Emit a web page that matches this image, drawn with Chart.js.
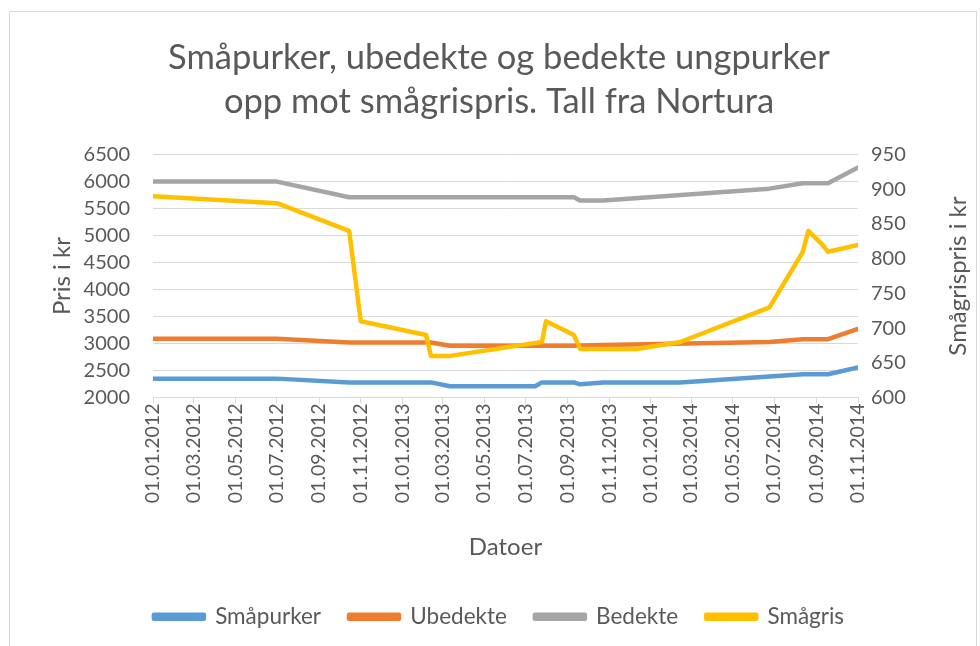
<!DOCTYPE html>
<html>
<head>
<meta charset="utf-8">
<script src="https://cdn.jsdelivr.net/npm/chart.js@4/dist/chart.umd.min.js"></script>
<style>
  body { margin: 0; background: #fff; }
  canvas { display: block; }
</style>
</head>
<body>
<canvas id="chart" width="980" height="646"></canvas>
<script>
// dates where at least one series changes slope
const dates = ['2012-01-01', '2012-07-01', '2012-10-15', '2012-11-01', '2013-02-05', '2013-02-12',
               '2013-03-12', '2013-07-15', '2013-07-25', '2013-07-31', '2013-09-10', '2013-09-19',
               '2013-10-23', '2013-12-11', '2014-02-13', '2014-06-24', '2014-08-12', '2014-08-20',
               '2014-09-10', '2014-09-18', '2014-11-01'];

const smapurker = [2350, 2350, 2280, null, null, 2280, 2210, 2210, 2280, null, 2280, 2245,
                   2280, null, 2280, 2390, 2430, null, null, 2430, 2555];
const ubedekte  = [3090, 3090, 3020, null, null, 3020, 2960, null, null, null, 2960, null,
                   2975, null, null, 3030, 3080, null, null, 3080, 3270];
const bedekte   = [6000, 6000, 5710, null, null, null, null, null, null, null, 5710, 5650,
                   5650, null, null, 5870, 5970, null, null, 5970, 6260];
const smagris   = [890, 880, 840, 710, 690, 660, 660, null, 680, 710, 690, 670,
                   null, 670, 680, 730, 810, 840, 820, 810, 820];

const tickLabels = ['01.01.2012', '01.03.2012', '01.05.2012', '01.07.2012', '01.09.2012', '01.11.2012',
                    '01.01.2013', '01.03.2013', '01.05.2013', '01.07.2013', '01.09.2013', '01.11.2013',
                    '01.01.2014', '01.03.2014', '01.05.2014', '01.07.2014', '01.09.2014', '01.11.2014'];

const FONT = 'Lato';
const TEXT = '#595959';
const GRID = '#D9D9D9';

const start = Date.UTC(2012, 0, 1);
function dayOf(iso) {
    const p = iso.split('-').map(Number);
    return (Date.UTC(p[0], p[1] - 1, p[2]) - start) / 86400000;
}
function dayOfLabel(lbl) {
    const p = lbl.split('.');
    return dayOf(p[2] + '-' + p[1] + '-' + p[0]);
}
const tickDays = tickLabels.map(dayOfLabel);

function points(values) {
    return dates.map((d, i) => ({ x: dayOf(d), y: values[i] }));
}

function series(label, values, color, axis, order) {
    return {
        label: label,
        data: points(values),
        borderColor: color,
        backgroundColor: color,
        borderWidth: 4.5,
        pointRadius: 0,
        tension: 0,
        borderJoinStyle: 'round',
        borderCapStyle: 'round',
        spanGaps: true,
        yAxisID: axis,
        order: order
    };
}

// frame round the chart + right axis title that reads bottom to top
const extras = {
    id: 'extras',
    beforeDraw(chart) {
        const ctx = chart.ctx;
        ctx.save();
        ctx.strokeStyle = GRID;
        ctx.lineWidth = 1;
        ctx.strokeRect(9.5, 11.5, 967, 700);
        ctx.restore();
    },
    afterDraw(chart) {
        const ctx = chart.ctx;
        const s = chart.scales.y1;
        ctx.save();
        ctx.translate(958, (s.top + s.bottom) / 2);
        ctx.rotate(-Math.PI / 2);
        ctx.fillStyle = TEXT;
        ctx.font = '24px ' + FONT;
        ctx.textAlign = 'center';
        ctx.textBaseline = 'middle';
        ctx.fillText('Smågrispris i kr', 0, 0);
        ctx.restore();
    }
};

new Chart(document.getElementById('chart'), {
    type: 'line',
    data: {
        datasets: [
            series('Småpurker', smapurker, '#5B9BD5', 'y', 3),
            series('Ubedekte', ubedekte, '#ED7D31', 'y', 2),
            series('Bedekte', bedekte, '#A5A5A5', 'y', 1),
            series('Smågris', smagris, '#FFC000', 'y1', 0)
        ]
    },
    options: {
        responsive: false,
        animation: false,
        layout: { padding: { left: 18, right: 0, top: 0, bottom: 8 } },
        plugins: {
            title: {
                display: true,
                text: ['Småpurker, ubedekte og bedekte ungpurker', 'opp mot smågrispris. Tall fra Nortura'],
                color: TEXT,
                font: { family: FONT, size: 34.5, weight: 'normal', lineHeight: 1.27 },
                padding: { top: 36, bottom: 31 }
            },
            legend: {
                position: 'bottom',
                labels: {
                    color: TEXT,
                    font: { family: FONT, size: 22.5 },
                    boxWidth: 50,
                    boxHeight: 4,
                    padding: 28,
                    sort: (a, b) => a.datasetIndex - b.datasetIndex
                }
            },
            tooltip: { enabled: false }
        },
        scales: {
            x: {
                type: 'linear',
                min: 0,
                max: tickDays[tickDays.length - 1],
                afterBuildTicks(scale) {
                    scale.ticks = tickDays.map(v => ({ value: v }));
                },
                ticks: {
                    autoSkip: false,
                    minRotation: 90,
                    maxRotation: 90,
                    color: TEXT,
                    font: { family: FONT, size: 19.5 },
                    padding: 0,
                    callback: (v) => tickLabels[tickDays.indexOf(v)]
                },
                grid: { drawOnChartArea: false, color: GRID, tickLength: 6 },
                border: { color: GRID },
                title: {
                    display: true,
                    text: 'Datoer',
                    color: TEXT,
                    font: { family: FONT, size: 24 },
                    padding: { top: 30, bottom: 15.5 }
                }
            },
            y: {
                position: 'left',
                min: 2000,
                max: 6500,
                afterFit(scale) { scale.width = 135; },
                ticks: {
                    stepSize: 500, color: TEXT, font: { family: FONT, size: 20, lineHeight: 1 }, padding: 23,
                    callback: (v) => String(v)
                },
                grid: { color: GRID, drawTicks: false },
                border: { display: false },
                title: {
                    display: true,
                    text: 'Pris i kr',
                    color: TEXT,
                    font: { family: FONT, size: 24 },
                    padding: { top: 30, bottom: 6 }
                }
            },
            y1: {
                position: 'right',
                min: 600,
                max: 950,
                afterFit(scale) { scale.width = 122; },
                ticks: {
                    stepSize: 50, color: TEXT, font: { family: FONT, size: 20, lineHeight: 1 }, padding: 13,
                    callback: (v) => String(v)
                },
                grid: { drawOnChartArea: false, drawTicks: false },
                border: { display: false }
            }
        }
    },
    plugins: [extras]
});
</script>
</body>
</html>
